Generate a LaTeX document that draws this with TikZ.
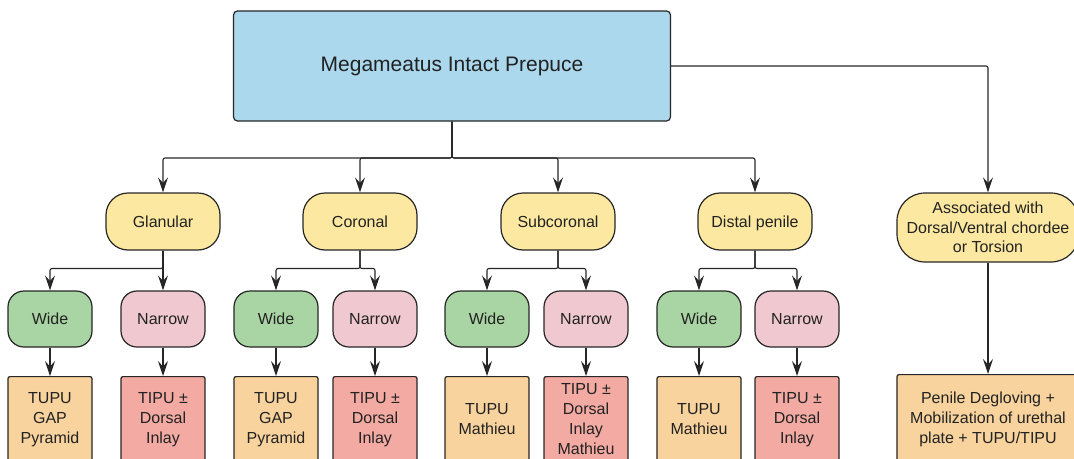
\documentclass[tikz,border=0pt]{standalone}
\usepackage{fontspec}
\setmainfont{Liberation Sans}
\usetikzlibrary{arrows.meta}
\definecolor{cblue}{HTML}{ABD8EC}
\definecolor{cyellow}{HTML}{FCE8A0}
\definecolor{cgreen}{HTML}{A9D4A3}
\definecolor{cpink}{HTML}{F0C8D0}
\definecolor{corange}{HTML}{F8D39E}
\definecolor{csalmon}{HTML}{F2AAA3}
\definecolor{cline}{HTML}{262626}
\definecolor{ctext}{HTML}{222222}
\begin{document}
\begin{tikzpicture}[x=1pt,y=-1pt,
  base/.style={draw=cline, line width=1.2pt, text=ctext, font=\fontsize{16}{20}\selectfont, align=center, inner sep=0pt},
  topbox/.style={base, fill=cblue, rounded corners=4pt, minimum width=437pt, minimum height=110pt, font=\fontsize{21}{25}\selectfont},
  locbase/.style={base, fill=cyellow, rounded corners=22pt, minimum width=114pt, minimum height=57pt},
  loc/.style={locbase, text height=12.5pt, text depth=1.5pt},
  widebox/.style={base, fill=cgreen, rounded corners=16pt, minimum width=84pt, minimum height=56pt},
  narrowbox/.style={base, fill=cpink, rounded corners=16pt, minimum width=84pt, minimum height=56pt},
  tupubox/.style={base, fill=corange, rounded corners=2pt, minimum width=84pt, minimum height=110pt, anchor=north},
  tipubox/.style={base, fill=csalmon, rounded corners=2pt, minimum width=84pt, minimum height=110pt, anchor=north},
  lbl/.style={text=ctext, font=\fontsize{16}{20}\selectfont, align=center, inner sep=0pt},
  conn/.style={draw=cline, line width=1.1pt, -{Stealth[length=15pt,width=10pt,inset=5.5pt]}, rounded corners=2pt}
]
\useasboundingbox (0,0) rectangle (1074,458);
\clip (0,0) rectangle (1074,458);

% top
\node[topbox] (top) at (452,66) {Megameatus Intact Prepuce};

% location nodes
\node[loc] (gl) at (163,221.5) {Glanular};
\node[loc] (co) at (360,221.5) {Coronal};
\node[loc] (sc) at (558,221.5) {Subcoronal};
\node[loc] (dp) at (755,221.5) {Distal penile};
\node[locbase, minimum width=182pt, minimum height=69pt, rounded corners=28pt, font=\fontsize{16}{19.5}\selectfont] (as) at (988,227.5) {Associated with\\Dorsal/Ventral chordee\\or Torsion};

% wide / narrow
\node[widebox] (gw) at (50,319) {Wide};
\node[narrowbox] (gn) at (163,319) {Narrow};
\node[widebox] (cw) at (276,319) {Wide};
\node[narrowbox] (cn) at (375,319) {Narrow};
\node[widebox] (sw) at (487,319) {Wide};
\node[narrowbox] (sn) at (586,319) {Narrow};
\node[widebox] (dw) at (699,319) {Wide};
\node[narrowbox] (dn) at (797,319) {Narrow};

% bottom boxes
\node[tupubox] (gwb) at (50,376) {};
\node[tipubox] (gnb) at (163,376) {};
\node[tupubox] (cwb) at (276,376) {};
\node[tipubox] (cnb) at (375,376) {};
\node[tupubox] (swb) at (487,376) {};
\node[tipubox] (snb) at (586,376) {};
\node[tupubox] (dwb) at (699,376) {};
\node[tipubox] (dnb) at (797,376) {};
\node[tupubox, minimum width=182pt] (asb) at (988,374) {};

\node[lbl] (gwt) at (50,419.5) {TUPU\\GAP\\Pyramid};
\node[lbl] (gnt) at (163,419.5) {TIPU ±\\Dorsal\\Inlay};
\node[lbl] (cwt) at (276,419.5) {TUPU\\GAP\\Pyramid};
\node[lbl] (cnt) at (375,419.5) {TIPU ±\\Dorsal\\Inlay};
\node[lbl] (swt) at (487,419.5) {TUPU\\Mathieu};
\node[lbl] (snt) at (586,419) {TIPU ±\\Dorsal\\Inlay\\Mathieu};
\node[lbl] (dwt) at (699,419.5) {TUPU\\Mathieu};
\node[lbl] (dnt) at (797,419.5) {TIPU ±\\Dorsal\\Inlay};
\node[lbl] (asbt) at (988,419) {Penile Degloving +\\Mobilization of urethal\\plate + TUPU/TIPU};

% connectors from top
\coordinate (j0) at (452,158);
\draw[conn] (top.south) -- (j0) -| (gl.north);
\draw[conn] (top.south) -- (j0) -| (co.north);
\draw[conn] (top.south) -- (j0) -| (sc.north);
\draw[conn] (top.south) -- (j0) -| (dp.north);
\draw[conn] (top.east) -| (as.north);

% branches
\coordinate (jg) at (163,268.5);
\coordinate (jc) at (360,268.5);
\coordinate (js) at (558,268.5);
\coordinate (jd) at (755,268.5);
\draw[conn] (gl.south) -- (jg) -| (gw.north);
\draw[conn] (gl.south) -- (gn.north);
\draw[conn] (co.south) -- (jc) -| (cw.north);
\draw[conn] (co.south) -- (jc) -| (cn.north);
\draw[conn] (sc.south) -- (js) -| (sw.north);
\draw[conn] (sc.south) -- (js) -| (sn.north);
\draw[conn] (dp.south) -- (jd) -| (dw.north);
\draw[conn] (dp.south) -- (jd) -| (dn.north);

% to treatments
\draw[conn] (gw.south) -- (gwb.north);
\draw[conn] (gn.south) -- (gnb.north);
\draw[conn] (cw.south) -- (cwb.north);
\draw[conn] (cn.south) -- (cnb.north);
\draw[conn] (sw.south) -- (swb.north);
\draw[conn] (sn.south) -- (snb.north);
\draw[conn] (dw.south) -- (dwb.north);
\draw[conn] (dn.south) -- (dnb.north);
\draw[conn] (as.south) -- (asb.north);
\end{tikzpicture}
\end{document}
